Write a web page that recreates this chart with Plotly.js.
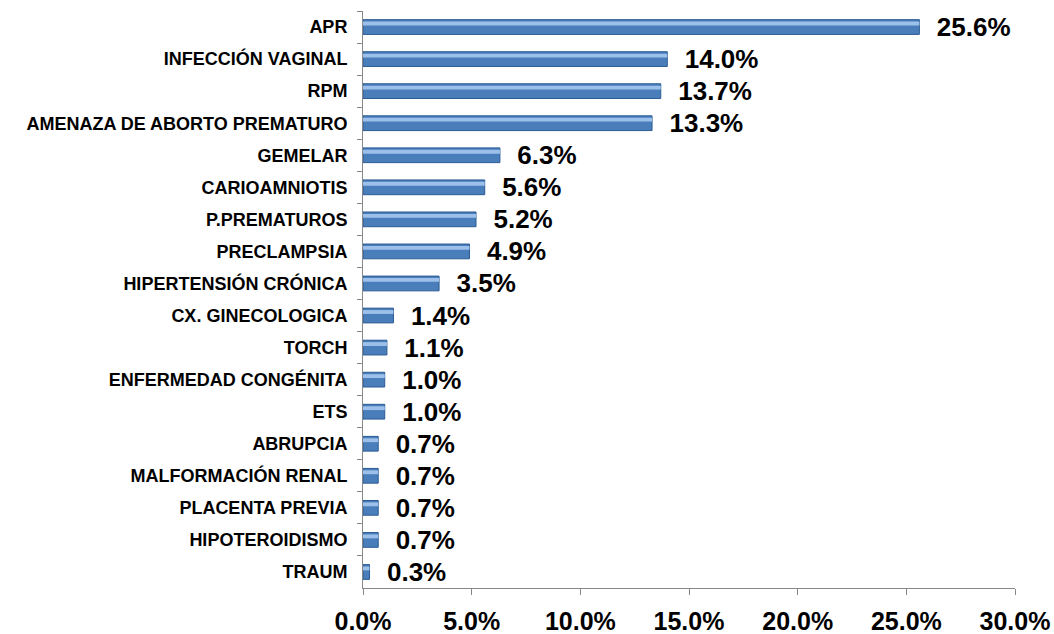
<!DOCTYPE html>
<html><head><meta charset="utf-8">
<script src="https://cdn.plot.ly/plotly-3.0.1.min.js"></script>
<style>body{margin:0;background:#fff}#c{width:1054px;height:634px}</style>
</head><body><div id="c"></div>
<script>
const categories = ["APR","INFECCIÓN VAGINAL","RPM","AMENAZA DE ABORTO PREMATURO","GEMELAR","CARIOAMNIOTIS","P.PREMATUROS","PRECLAMPSIA","HIPERTENSIÓN CRÓNICA","CX. GINECOLOGICA","TORCH","ENFERMEDAD CONGÉNITA","ETS","ABRUPCIA","MALFORMACIÓN RENAL","PLACENTA PREVIA","HIPOTEROIDISMO","TRAUM"];
const values = [25.6,14.0,13.7,13.3,6.3,5.6,5.2,4.9,3.5,1.4,1.1,1.0,1.0,0.7,0.7,0.7,0.7,0.3];
const tickVals = [0,5,10,15,20,25,30];

const fontFam = "Arial, 'Liberation Sans', sans-serif";
const traces = [
  {type:'bar', orientation:'h', y:categories, x:values, width:0.46,
   marker:{color:'#4a7ebb', line:{color:'#2b5b93', width:1}},
   text:values.map(v=>v.toFixed(1)+'%'), texttemplate:'  %{text}', textposition:'outside', cliponaxis:false,
   constraintext:'none',
   textfont:{family:fontFam, size:26, color:'#000', weight:'bold'}, hoverinfo:'x+y'},
  {type:'bar', orientation:'h', y:categories, x:values, width:0.12, offset:-0.17,
   marker:{color:'#9cc0ea', line:{width:0}}, hoverinfo:'skip'}
];
const layout = {
  width:1054, height:634, margin:{l:363, r:39, t:11, b:46},
  barmode:'overlay', showlegend:false, paper_bgcolor:'#fff', plot_bgcolor:'#fff',
  font:{family:fontFam, color:'#000'},
  xaxis:{range:[0,30], tickvals:tickVals, ticktext:tickVals.map(v=>v.toFixed(1)+'%'),
    showgrid:false, zeroline:false, showline:true, linecolor:'#888', linewidth:1,
    ticks:'outside', ticklen:6, tickcolor:'#888', ticklabelstandoff:5,
    tickfont:{size:25, weight:'bold', color:'#000'}},
  yaxis:{type:'category', autorange:'reversed', showgrid:false, showline:true, linecolor:'#888', linewidth:1,
    ticks:'outside', ticklen:5, tickcolor:'#888', tickson:'boundaries', ticklabelstandoff:11,
    tickfont:{size:18, weight:'bold', color:'#000'}}
};
Plotly.newPlot('c', traces, layout, {displayModeBar:false, staticPlot:true});
</script></body></html>
